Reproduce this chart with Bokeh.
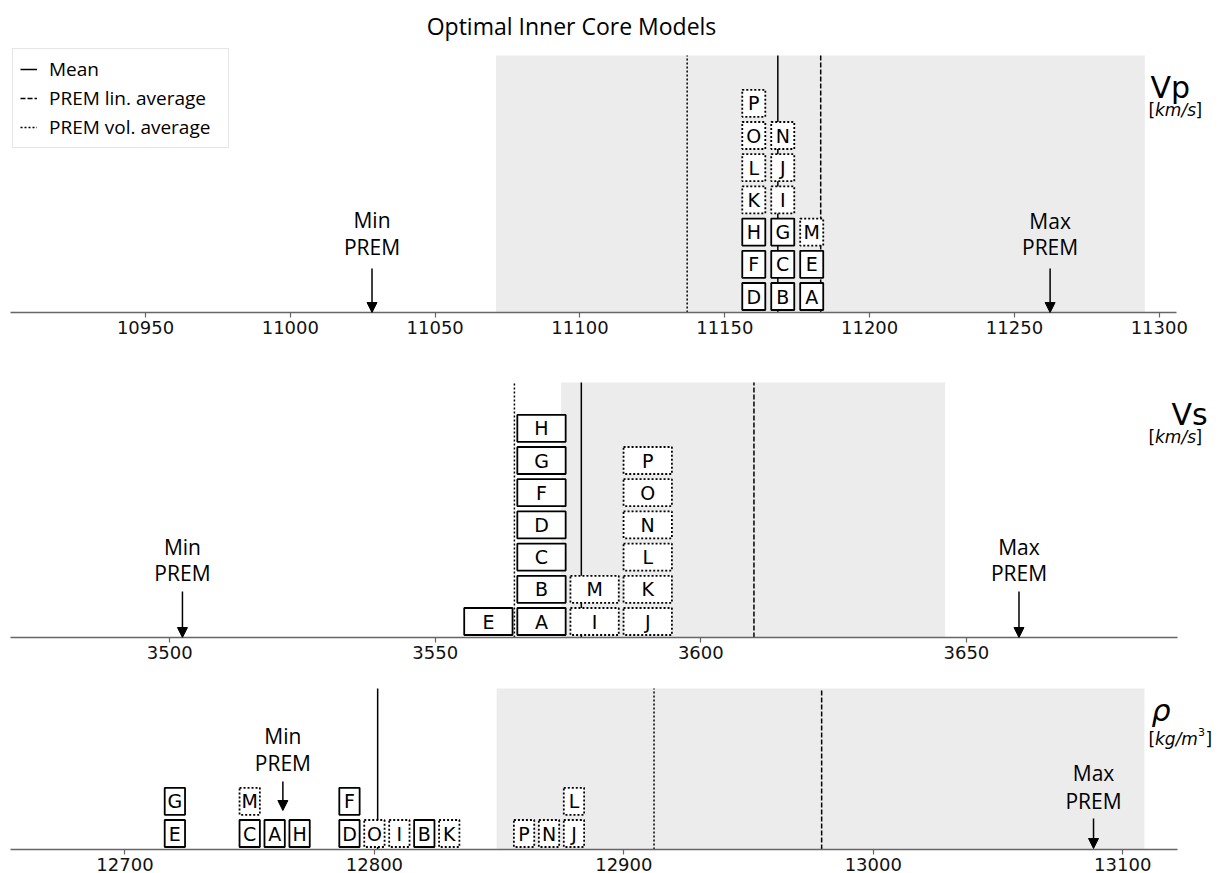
from bokeh.plotting import figure
from bokeh.layouts import column
from bokeh.models import (Range1d, FixedTicker, ColumnDataSource, Legend, LegendItem,
                          Arrow, NormalHead, GlobalInlineStyleSheet)
from bokeh.core.properties import value
from bokeh.embed import file_html
from bokeh.resources import INLINE

# ---------------- data ----------------
models = list("ABCDEFGHIJKLMNOP")
solid_models = list("ABCDEFGH")          # drawn with solid boxes, the rest dotted

vp_values = [11180, 11170, 11170, 11160, 11180, 11160, 11170, 11160,
             11170, 11170, 11160, 11160, 11180, 11170, 11160, 11160]
vs_values = [3570, 3570, 3570, 3570, 3560, 3570, 3570, 3570,
             3580, 3590, 3590, 3590, 3580, 3590, 3590, 3590]
rho_values = [12760, 12820, 12750, 12790, 12720, 12790, 12720, 12770,
              12810, 12880, 12830, 12880, 12750, 12870, 12800, 12860]

vp_stats = dict(mean=11168.3, lin=11183.1, vol=11137.0, prem_min=11028.2, prem_max=11262.3,
                band=(11071.0, 11295.0))
vs_stats = dict(mean=3577.5, lin=3610.0, vol=3564.9, prem_min=3502.4, prem_max=3659.9,
                band=(3573.7, 3646.0))
rho_stats = dict(mean=12801.3, lin=12979.3, vol=12912.1, prem_min=12763.3, prem_max=13088.3,
                 band=(12849.0, 13108.7))

vp_ticks = [10950, 11000, 11050, 11100, 11150, 11200, 11250, 11300]
vs_ticks = [3500, 3550, 3600, 3650]
rho_ticks = [12700, 12800, 12900, 13000, 13100]

title_text = "Optimal Inner Core Models"
legend_labels = ["Mean", "PREM lin. average", "PREM vol. average"]

# ---------------- layout constants ----------------
FRAME_W = 1207
PAGE_X0 = 8
ROW0 = 16.0
ROW_PITCH = 32.2
BOX_H = 27
BAND_COLOR = "#ececec"
DASHED = "5 2"
DOTTED = "2 2"
LABEL_FONT = value("Open Sans")
MONO_FONT = value("DejaVu Sans")


def page_to_x(rng, px):
    s, e = rng
    return s + (px - PAGE_X0) * (e - s) / FRAME_W


def stack_rows(vals):
    counts, rows = {}, []
    for v in vals:
        r = counts.get(v, 0)
        rows.append(r)
        counts[v] = r + 1
    return rows


def make_panel(vals, stats, ticks, xr, bounds, frame_h, band_top, box_w,
               min_y, max_y, min_arrow, max_arrow, top_border=0):
    p = figure(frame_width=FRAME_W, frame_height=frame_h,
               x_range=Range1d(*xr), y_range=Range1d(0, frame_h),
               output_backend="svg", toolbar_location=None,
               y_axis_location=None, x_axis_location="below",
               min_border_left=PAGE_X0, min_border_right=0, min_border_top=top_border,
               min_border_bottom=40,
               background_fill_color="white", border_fill_color="white",
               outline_line_color=None)
    p.grid.visible = False
    ax = p.xaxis[0]
    ax.ticker = FixedTicker(ticks=ticks)
    ax.bounds = bounds
    ax.axis_line_color = "#666666"
    ax.axis_line_width = 1.3
    ax.major_tick_line_color = "#666666"
    ax.major_tick_line_width = 1.2
    ax.major_tick_out = 5
    ax.major_tick_in = 0
    ax.minor_tick_line_color = None
    ax.major_label_text_font = "DejaVu Sans"
    ax.major_label_text_font_size = "18px"
    ax.major_label_text_color = "#111111"
    ax.major_label_standoff = 3

    # grey band
    p.quad(left=[stats["band"][0]], right=[stats["band"][1]], bottom=[0], top=[band_top],
           fill_color=BAND_COLOR, line_color=None)

    # vertical reference lines
    r_mean = p.segment(x0=[stats["mean"]], y0=[0], x1=[stats["mean"]], y1=[band_top],
                       line_color="black", line_width=1.5)
    r_lin = p.segment(x0=[stats["lin"]], y0=[0], x1=[stats["lin"]], y1=[band_top],
                      line_color="black", line_width=1.5, line_dash=DASHED)
    r_vol = p.segment(x0=[stats["vol"]], y0=[0], x1=[stats["vol"]], y1=[band_top],
                      line_color="black", line_width=1.5, line_dash=DOTTED)

    # model boxes
    rows = stack_rows(vals)
    ys = [ROW0 + ROW_PITCH * r for r in rows]
    solid = dict(x=[], y=[], t=[])
    dotted = dict(x=[], y=[], t=[])
    for m, v, y in zip(models, vals, ys):
        d = solid if m in solid_models else dotted
        d["x"].append(v)
        d["y"].append(y)
        d["t"].append(m)
    for d, dash in ((solid, "solid"), (dotted, DOTTED)):
        src = ColumnDataSource(d)
        p.rect(x="x", y="y", width=box_w, height=BOX_H, source=src,
               fill_color="white", line_color="black", line_width=1.8, line_dash=dash)
        p.text(x="x", y="y", text="t", source=src, text_align="center",
               text_baseline="middle", text_font=MONO_FONT, text_font_size="19px",
               text_color="black")

    # PREM min / max annotations
    for xv, (y1, y2), (a0, a1), word in ((stats["prem_min"], min_y, min_arrow, "Min"),
                                         (stats["prem_max"], max_y, max_arrow, "Max")):
        p.text(x=[xv], y=[y1], text=[word], text_align="center", text_baseline="middle",
               text_font=LABEL_FONT, text_font_size="21px", text_color="black")
        p.text(x=[xv], y=[y2], text=["PREM"], text_align="center", text_baseline="middle",
               text_font=LABEL_FONT, text_font_size="21px", text_color="black")
        p.add_layout(Arrow(end=NormalHead(size=10, fill_color="black", line_color="black",
                                          line_width=1),
                           x_start=xv, y_start=a0, x_end=xv, y_end=a1,
                           line_color="black", line_width=1.5))
    return p, (r_mean, r_lin, r_vol)


def add_text(p, xr, page_x, y, txt, size, style="normal", font=MONO_FONT):
    p.text(x=[page_to_x(xr, page_x)], y=[y], text=[txt], text_align="left",
           text_baseline="alphabetic", text_font=font, text_font_size=size,
           text_font_style=style, text_color="black")


# ---------------- panel 1: Vp ----------------
xr1 = (10902.7, 11319.4)
p1, (m1, l1, v1) = make_panel(vp_values, vp_stats, vp_ticks, xr1, (10903.3, 11306.0),
                              304, 257, 7.95, (93, 66), (92, 66), (44, 0), (44, 0),
                              top_border=8)
# title
p1.text(x=[page_to_x(xr1, 571)], y=[287], text=[title_text], text_align="center",
        text_baseline="middle", text_font=LABEL_FONT, text_font_size="23px",
        text_color="black")
add_text(p1, xr1, 1150, 225, "Vp", "30px")
add_text(p1, xr1, 1148, 203, "[", "17px")
add_text(p1, xr1, 1154.5, 203, "km/s", "17px", "italic")
add_text(p1, xr1, 1195, 203, "]", "17px")

legend = Legend(items=[LegendItem(label=legend_labels[0], renderers=[m1]),
                       LegendItem(label=legend_labels[1], renderers=[l1]),
                       LegendItem(label=legend_labels[2], renderers=[v1])],
                location=(4, 164), orientation="vertical",
                label_text_font="Open Sans", label_text_font_size="19px",
                label_text_color="black",
                label_height=24, label_width=172, glyph_height=24, glyph_width=17,
                label_standoff=12, spacing=3, padding=7, margin=0,
                border_line_color="#cccccc", border_line_width=1,
                background_fill_color="white", background_fill_alpha=0.85)
p1.add_layout(legend)

# ---------------- panel 2: Vs ----------------
xr2 = (3469.65, 3696.9)
p2, _ = make_panel(vs_values, vs_stats, vs_ticks, xr2, (3470.0, 3689.8),
                   285, 255, 9.1, (91, 65), (91, 65), (46, 0), (46, 0))
add_text(p2, xr2, 1171, 223, "Vs", "30px")
add_text(p2, xr2, 1148, 201, "[", "17px")
add_text(p2, xr2, 1154.5, 201, "km/s", "17px", "italic")
add_text(p2, xr2, 1195, 201, "]", "17px")

# ---------------- panel 3: rho ----------------
xr3 = (12653.3, 13137.2)
p3, _ = make_panel(rho_values, rho_stats, rho_ticks, xr3, (12654.0, 13121.8),
                   172, 161, 8.15, (114, 87), (77, 49), (68, 39), (31, 1))
add_text(p3, xr3, 1151, 139, "\u03c1", "30px", "italic")
add_text(p3, xr3, 1148, 111, "[", "17px")
add_text(p3, xr3, 1154.5, 111, "kg/m", "17px", "italic")
add_text(p3, xr3, 1197.5, 118, "3", "11px")
add_text(p3, xr3, 1205, 111, "]", "17px")

p = column(p1, p2, p3, spacing=0,
           stylesheets=[GlobalInlineStyleSheet(css="html, body { overflow: hidden; }")])

open("out.html", "w").write(file_html(p, INLINE))
